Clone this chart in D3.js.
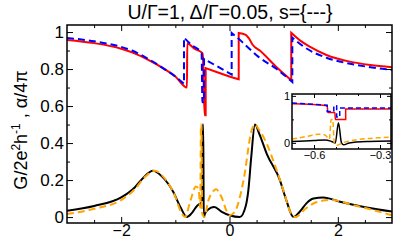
<!DOCTYPE html>
<html>
<head>
<meta charset="utf-8">
<script src="https://cdn.jsdelivr.net/npm/d3@7"></script>
<style>
body { margin: 0; background: #fff; }
text { font-family: "Liberation Sans", Arial, sans-serif; }
.tick line { stroke: #000; }
</style>
</head>
<body>
<svg width="395" height="240"></svg>
<script>
// main panel data (jumps = repeated x)
var redX = [-3, -2.5, -2, -1.8, -1.5, -1.2, -1, -0.785, -0.78, -0.65, -0.5, -0.49, -0.46, -0.44, -0.44, -0.2, 0, 0.17, 0.17, 0.3, 0.36, 0.43, 0.56, 0.87, 1.14, 1.14, 1.3, 1.49, 1.79, 2.22, 2.6, 3];
var redY = [0.957, 0.94, 0.91, 0.89, 0.85, 0.80, 0.76, 0.70, 0.94, 0.91, 0.886, 0.86, 0.55, 0.55, 0.805, 0.78, 0.76, 0.745, 0.995, 0.985, 0.965, 0.93, 0.90, 0.81, 0.74, 0.996, 0.955, 0.92, 0.876, 0.84, 0.822, 0.81];

var blueX = [-3, -2.5, -2, -1.8, -1.5, -1.2, -1, -0.84, -0.84, -0.7, -0.515, -0.5, -0.47, -0.47, -0.2, 0.04, 0.04, 0.2, 0.53, 0.87, 1.16, 1.16, 1.4, 1.8, 2.2, 2.6, 3];
var blueY = [0.968, 0.95, 0.92, 0.90, 0.855, 0.80, 0.76, 0.72, 0.97, 0.93, 0.886, 0.62, 0.62, 0.855, 0.81, 0.77, 0.995, 0.955, 0.867, 0.80, 0.73, 0.97, 0.915, 0.86, 0.83, 0.81, 0.795];

var gX = [-3, -2.5, -2, -1.75, -1.6, -1.41, -1.25, -1.04, -0.9, -0.785, -0.7, -0.6, -0.53, -0.505, -0.495, -0.485, -0.475, -0.45, -0.35, -0.28, -0.15, 0, 0.19, 0.3, 0.35, 0.4, 0.47, 0.55, 0.69, 0.93, 1.05, 1.18, 1.3, 1.42, 1.55, 1.73, 2.04, 2.53, 3];
var gY = [0.034, 0.06, 0.106, 0.16, 0.21, 0.25, 0.22, 0.137, 0.05, 0.0, 0.02, 0.06, 0.075, 0.05, 0.5, 0.5, 0.0, 0.02, 0.05, 0.055, 0.03, 0.01, 0.0, 0.06, 0.15, 0.32, 0.5, 0.45, 0.34, 0.2, 0.09, 0.0, 0.03, 0.074, 0.1, 0.106, 0.083, 0.052, 0.03];

var oX = [-3, -2.5, -2, -1.75, -1.55, -1.38, -1.2, -1, -0.9, -0.82, -0.72, -0.62, -0.57, -0.54, -0.527, -0.518, -0.505, -0.46, -0.4, -0.3, -0.25, -0.15, -0.05, 0, 0.1, 0.26, 0.41, 0.47, 0.55, 0.65, 0.87, 1, 1.12, 1.21, 1.42, 1.6, 1.86, 2.35, 3];
var oY = [0.016, 0.045, 0.092, 0.15, 0.22, 0.25, 0.21, 0.11, 0.03, 0.0, 0.09, 0.165, 0.15, 0.05, 0.5, 0.5, 0.02, 0.0, 0.08, 0.14, 0.15, 0.11, 0.03, 0.01, 0.03, 0.2, 0.47, 0.5, 0.47, 0.42, 0.254, 0.14, 0.03, 0.0, 0.049, 0.08, 0.092, 0.06, 0.01];

// inset data
var inRedX = [-0.7, -0.54, -0.537, -0.505, -0.503, -0.456, -0.456, -0.25];
var inRedY = [0.83, 0.79, 0.645, 0.645, 0.50, 0.50, 0.72, 0.72];
var inBlueX = [-0.7, -0.54, -0.54, -0.51, -0.51, -0.497, -0.497, -0.483, -0.483, -0.25];
var inBlueY = [0.85, 0.80, 0.67, 0.67, 0.79, 0.79, 0.55, 0.55, 0.74, 0.74];
var inGX = [-0.7, -0.6, -0.55, -0.52, -0.503, -0.489, -0.475, -0.465, -0.44, -0.35, -0.25];
var inGY = [0.03, 0.05, 0.064, 0.03, 0.0, 0.43, 0.0, -0.04, 0.0, 0.03, 0.04];
var inOX = [-0.7, -0.63, -0.58, -0.55, -0.53, -0.522, -0.515, -0.508, -0.495, -0.47, -0.4, -0.3, -0.25];
var inOY = [0.08, 0.14, 0.185, 0.17, 0.08, 0.5, 0.5, 0.0, -0.05, 0.0, 0.07, 0.11, 0.12];

var svg = d3.select("svg");

var x = d3.scaleLinear().domain([-3, 3]).range([67, 392]);
var y = d3.scaleLinear().domain([-0.032, 1.038]).range([223, 25]);

// split at jumps, smooth each piece, join into one path
function jumpPath(xs, ys, sx, sy) {
  var segs = [], cur = [];
  xs.forEach(function (v, i) {
    if (i > 0 && v === xs[i - 1]) { segs.push(cur); cur = []; }
    cur.push([v, ys[i]]);
  });
  segs.push(cur);
  var line = d3.line().x(d => sx(d[0])).y(d => sy(d[1])).curve(d3.curveMonotoneX);
  return segs.map(function (s, i) {
    var d = line(s);
    return i === 0 ? d : "L" + d.slice(1);
  }).join("");
}

var series = [
  {xs: gX, ys: gY, color: "#000", dash: null},
  {xs: oX, ys: oY, color: "#ffa500", dash: "7,4"},
  {xs: redX, ys: redY, color: "#ff0000", dash: null},
  {xs: blueX, ys: blueY, color: "#0000ff", dash: "7,4"}
];

svg.append("clipPath").attr("id", "clipMain")
  .append("rect").attr("x", 67).attr("y", 25).attr("width", 325).attr("height", 198);

svg.append("g").attr("clip-path", "url(#clipMain)")
  .selectAll("path").data(series).enter().append("path")
  .attr("d", d => jumpPath(d.xs, d.ys, x, y))
  .attr("fill", "none")
  .attr("stroke", d => d.color)
  .attr("stroke-width", 2)
  .attr("stroke-dasharray", d => d.dash);

// axes, ticks inside on all four sides
var fmtY = d => (d === 0 ? "0" : d === 1 ? "1" : d3.format(".1f")(d));
function axes(g, sx, sy, xMaj, xMin, yMaj, yMin, fx, fy, big, small, pad, fs) {
  var x0 = sx.range()[0], x1 = sx.range()[1], y0 = sy.range()[0], y1 = sy.range()[1];
  g.append("g").attr("transform", "translate(0," + y0 + ")")
    .call(d3.axisBottom(sx).tickValues(xMaj).tickSize(-big).tickPadding(pad).tickFormat(fx));
  g.append("g").attr("transform", "translate(0," + y0 + ")")
    .call(d3.axisBottom(sx).tickValues(xMin).tickSize(-small).tickFormat(""));
  g.append("g").attr("transform", "translate(0," + y1 + ")")
    .call(d3.axisTop(sx).tickValues(xMaj).tickSize(-big).tickFormat(""));
  g.append("g").attr("transform", "translate(0," + y1 + ")")
    .call(d3.axisTop(sx).tickValues(xMin).tickSize(-small).tickFormat(""));
  g.append("g").attr("transform", "translate(" + x0 + ",0)")
    .call(d3.axisLeft(sy).tickValues(yMaj).tickSize(-big).tickPadding(pad).tickFormat(fy));
  g.append("g").attr("transform", "translate(" + x0 + ",0)")
    .call(d3.axisLeft(sy).tickValues(yMin).tickSize(-small).tickFormat(""));
  g.append("g").attr("transform", "translate(" + x1 + ",0)")
    .call(d3.axisRight(sy).tickValues(yMaj).tickSize(-big).tickFormat(""));
  g.append("g").attr("transform", "translate(" + x1 + ",0)")
    .call(d3.axisRight(sy).tickValues(yMin).tickSize(-small).tickFormat(""));
  g.selectAll(".domain").remove();
  g.selectAll(".tick text").attr("font-size", fs).attr("fill", "#000")
    .style("font-family", "'Liberation Sans', Arial, sans-serif");
  g.append("rect").attr("x", x0).attr("y", y1).attr("width", x1 - x0).attr("height", y0 - y1)
    .attr("fill", "none").attr("stroke", "#000").attr("stroke-width", 1.5);
}

var xTicks = [-2, 0, 2];
var xMinor = [-2.5, -1.5, -1, -0.5, 0.5, 1, 1.5, 2.5];
var yTicks = [0, 0.2, 0.4, 0.6, 0.8, 1];
var yMinor = [0.1, 0.3, 0.5, 0.7, 0.9];

var gMain = svg.append("g");
axes(gMain, x, y, xTicks, xMinor, yTicks, yMinor, d3.format("d"), fmtY, 6, 3, 3, "17px");
gMain.select("g").selectAll(".tick text").attr("font-size", "16px").attr("dy", "0.62em");

// inset
var xi = d3.scaleLinear().domain([-0.7, -0.25]).range([292, 391]);
var yi = d3.scaleLinear().domain([-0.13, 1.04]).range([149, 94]);

svg.append("rect").attr("x", 292).attr("y", 94).attr("width", 99).attr("height", 55).attr("fill", "#fff");
svg.append("clipPath").attr("id", "clipIn")
  .append("rect").attr("x", 292).attr("y", 94).attr("width", 99).attr("height", 55);

var inSeries = [
  {xs: inGX, ys: inGY, color: "#000", dash: null},
  {xs: inOX, ys: inOY, color: "#ffa500", dash: "5,3"},
  {xs: inRedX, ys: inRedY, color: "#ff0000", dash: null},
  {xs: inBlueX, ys: inBlueY, color: "#0000ff", dash: "5,3"}
];
svg.append("g").attr("clip-path", "url(#clipIn)")
  .selectAll("path").data(inSeries).enter().append("path")
  .attr("d", d => jumpPath(d.xs, d.ys, xi, yi))
  .attr("fill", "none")
  .attr("stroke", d => d.color)
  .attr("stroke-width", 1.5)
  .attr("stroke-dasharray", d => d.dash);

axes(svg.append("g"), xi, yi, [-0.6, -0.3], [-0.5, -0.4], [0, 1], [0.5],
  d3.format(".1f"), d3.format("d"), 4, 2, 2, "11px");

// title and y label
svg.append("text")
  .attr("x", 230).attr("y", 19)
  .attr("text-anchor", "middle")
  .attr("font-size", "19.5px")
  .text("U/\u0393=1, \u0394/\u0393=0.05, s={---}");

var yl = svg.append("text")
  .attr("transform", "translate(27,130) rotate(-90)")
  .attr("text-anchor", "middle")
  .attr("font-size", "18px");
yl.append("tspan").text("G/2e");
yl.append("tspan").attr("font-size", "12px").attr("dy", -7).text("2");
yl.append("tspan").attr("dy", 7).text("h");
yl.append("tspan").attr("font-size", "12px").attr("dy", -7).text("-1");
yl.append("tspan").attr("dy", 7).text(" , \u03b1/4\u03c0");
</script>
</body>
</html>
